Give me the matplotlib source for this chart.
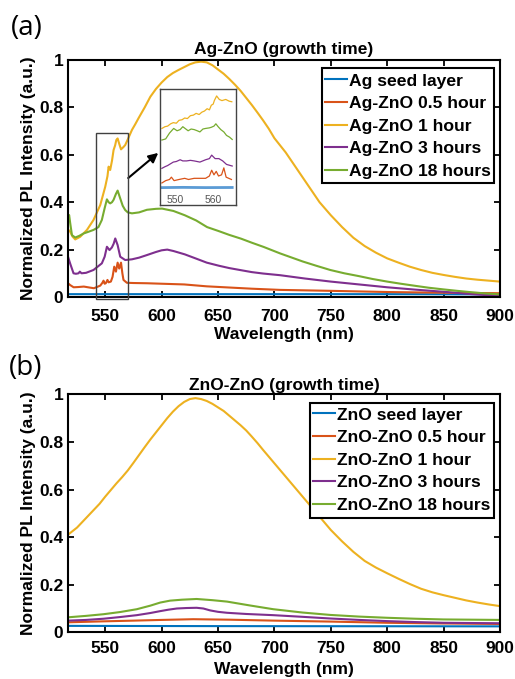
import matplotlib
matplotlib.use('Agg')
import matplotlib.pyplot as plt
from matplotlib.patches import Rectangle

plt.rcParams['font.family'] = ['Liberation Sans', 'DejaVu Sans']
plt.rcParams['font.weight'] = 'bold'
plt.rcParams['axes.linewidth'] = 1.5

C_BLUE = '#0072BD'
C_ORANGE = '#D95319'
C_YELLOW = '#EDB120'
C_PURPLE = '#7E2F8E'
C_GREEN = '#77AC30'
colors = [C_BLUE, C_ORANGE, C_YELLOW, C_PURPLE, C_GREEN]

labels_a = ['Ag seed layer', 'Ag-ZnO 0.5 hour', 'Ag-ZnO 1 hour', 'Ag-ZnO 3 hours', 'Ag-ZnO 18 hours']
labels_b = ['ZnO seed layer', 'ZnO-ZnO 0.5 hour', 'ZnO-ZnO 1 hour', 'ZnO-ZnO 3 hours', 'ZnO-ZnO 18 hours']

x_ticks = [550, 600, 650, 700, 750, 800, 850, 900]
y_ticks = [0, 0.2, 0.4, 0.6, 0.8, 1.0]
y_tick_labels = ['0', '0.2', '0.4', '0.6', '0.8', '1']

# ---------------- panel (a) data ----------------
a_seed_wl = [517, 600, 700, 800, 900]
a_seed = [0.012, 0.012, 0.012, 0.012, 0.011]

a_05h_wl = [517, 519, 522, 526, 531, 536, 540, 545.6, 547.5, 548.5, 549.5, 550.5, 552, 553, 555,
            556.5, 558, 559.5, 561, 562.4, 564, 565.2, 566.2, 569.2, 575, 587, 600, 620, 640, 660,
            680, 705, 750, 800, 850, 900]
a_05h = [0.058, 0.05, 0.041, 0.042, 0.044, 0.04, 0.037, 0.048, 0.06, 0.069, 0.056, 0.058, 0.072, 0.062, 0.065,
         0.085, 0.128, 0.107, 0.145, 0.12, 0.145, 0.10, 0.072, 0.06, 0.059, 0.058, 0.056, 0.053, 0.045, 0.04,
         0.035, 0.03, 0.026, 0.021, 0.018, 0.016]

a_1h_wl = [517, 519, 521, 523.4, 527.8, 533.8, 539.6, 545.6, 550, 552, 553, 554.4, 556, 557.4, 558.8,
           559.8, 561, 562.5, 564, 566, 567.7, 570, 573.7, 576.5, 579.6, 585, 590, 595, 600, 605, 610,
           615, 620, 625, 630, 635, 640, 645, 650, 655, 660, 665, 670, 675, 680, 685, 690, 695, 700,
           710, 720, 730, 740, 750, 760, 770, 780, 790, 800, 810, 820, 830, 840, 850, 860, 870, 880,
           890, 900]
a_1h = [0.285, 0.275, 0.255, 0.243, 0.254, 0.283, 0.325, 0.388, 0.465, 0.51, 0.55, 0.536, 0.575, 0.62, 0.64,
        0.662, 0.669, 0.645, 0.623, 0.632, 0.641, 0.665, 0.705, 0.728, 0.755, 0.80, 0.845, 0.878, 0.905, 0.928,
        0.945, 0.958, 0.97, 0.982, 0.99, 0.993, 0.99, 0.978, 0.96, 0.942, 0.92, 0.896, 0.87, 0.84, 0.81, 0.778,
        0.745, 0.71, 0.67, 0.61, 0.54, 0.47, 0.40, 0.345, 0.295, 0.25, 0.215, 0.187, 0.163, 0.145, 0.128,
        0.114, 0.102, 0.093, 0.085, 0.078, 0.073, 0.069, 0.065]

a_3h_wl = [517, 519, 521.9, 524, 526.3, 527.5, 529, 533, 539.6, 547, 549.5, 551.5, 553.8, 555.9, 557.5,
           558.9, 561, 563.3, 567.7, 573.7, 580, 587, 595, 600, 605, 610.5, 620.5, 630.6, 640, 650.7,
           660, 670.5, 680, 690, 705, 727, 750, 775, 800, 825, 850, 875, 900]
a_3h = [0.17, 0.14, 0.10, 0.098, 0.10, 0.107, 0.10, 0.102, 0.114, 0.142, 0.17, 0.212, 0.198, 0.209, 0.225,
        0.247, 0.219, 0.17, 0.156, 0.159, 0.166, 0.177, 0.19, 0.197, 0.2, 0.194, 0.18, 0.162, 0.145, 0.132,
        0.122, 0.113, 0.105, 0.099, 0.092, 0.078, 0.065, 0.053, 0.041, 0.031, 0.022, 0.012, 0.004]

a_18h_wl = [517, 518, 519, 520.5, 523.4, 527, 530.8, 535, 539.6, 544, 547, 549.5, 551.5, 553, 554.4, 556,
            557.4, 559.5, 561, 563.3, 565.5, 567.7, 570, 573.7, 580, 587, 595, 600.4, 610.5, 620.5, 630.6,
            640.3, 650.7, 660, 670.5, 680, 690.6, 705, 715, 725, 737, 749.5, 762, 775, 787, 800, 812, 825,
            837, 850, 862, 875, 887, 900]
a_18h = [0.33, 0.346, 0.31, 0.261, 0.251, 0.258, 0.268, 0.275, 0.283, 0.295, 0.325, 0.375, 0.412, 0.40, 0.395, 0.40,
         0.41, 0.435, 0.449, 0.416, 0.385, 0.367, 0.357, 0.353, 0.357, 0.368, 0.372, 0.373, 0.363, 0.345, 0.323,
         0.295, 0.278, 0.262, 0.246, 0.229, 0.211, 0.184, 0.167, 0.15, 0.132, 0.114, 0.1, 0.088, 0.076, 0.065,
         0.056, 0.047, 0.039, 0.032, 0.026, 0.02, 0.015, 0.011]

# ---------------- inset data (zoom of 546-566 nm, offset for display) ----------------
in_seed_wl = [546.5, 552, 558, 565]
in_seed = [0.15, 0.152, 0.15, 0.151]
in_05h_wl = [546.5, 547.5, 548.5, 549, 549.7, 551, 552.5, 553.5, 555, 556.5, 558, 559, 559.6, 560.2,
             560.8, 561.4, 562.2, 562.8, 563.4, 564.8]
in_05h = [0.19, 0.21, 0.22, 0.24, 0.21, 0.22, 0.23, 0.22, 0.23, 0.23, 0.23, 0.25, 0.30, 0.26,
          0.29, 0.25, 0.26, 0.32, 0.24, 0.22]
in_1h_wl = [546.5, 547.3, 548, 548.8, 549.5, 550.3, 551, 551.8, 552.5, 553.2, 554, 554.8, 555.5, 556.3,
            557, 557.7, 558.4, 559, 559.5, 560, 560.3, 560.9, 561.6, 562.3, 563.3, 564.2, 564.9]
in_1h = [0.66, 0.675, 0.68, 0.70, 0.71, 0.705, 0.73, 0.735, 0.75, 0.745, 0.77, 0.775, 0.79, 0.78,
         0.80, 0.81, 0.83, 0.82, 0.86, 0.87, 0.90, 0.94, 0.91, 0.90, 0.91, 0.895, 0.89]
in_3h_wl = [546.5, 547.3, 548, 549, 549.5, 550.3, 551.3, 552, 553, 554, 555, 556.5, 558, 559, 559.6,
            560.5, 561.5, 562.5, 563.5, 565]
in_3h = [0.316, 0.33, 0.34, 0.36, 0.37, 0.375, 0.39, 0.38, 0.38, 0.385, 0.38, 0.37, 0.39, 0.40, 0.43,
         0.40, 0.40, 0.38, 0.35, 0.336]
in_18h_wl = [546.5, 547.5, 548.5, 549.6, 550.5, 551.3, 552, 552.8, 553.4, 554.2, 555, 555.8, 556.5, 557.3,
             558, 559, 559.5, 560.2, 560.7, 561.3, 562, 562.8, 563.5, 564.3, 565]
in_18h = [0.56, 0.57, 0.62, 0.66, 0.64, 0.65, 0.675, 0.655, 0.64, 0.655, 0.65, 0.64, 0.63, 0.655,
          0.66, 0.665, 0.67, 0.68, 0.70, 0.675, 0.65, 0.63, 0.60, 0.585, 0.565]

# ---------------- panel (b) data ----------------
b_seed_wl = [517, 650, 900]
b_seed = [0.027, 0.026, 0.025]

b_05h_wl = [517, 548, 575, 600, 628, 660, 700, 750, 800, 850, 900]
b_05h = [0.042, 0.046, 0.049, 0.052, 0.055, 0.053, 0.049, 0.045, 0.04, 0.037, 0.035]

b_1h_wl = [517, 525, 530, 535, 540, 545, 550, 555, 560, 565, 570, 575, 580, 585, 590, 595, 600, 605,
           610, 615, 620, 625, 630, 635, 640, 645, 650, 655, 660, 665, 670, 675, 680, 685, 690, 695,
           700, 705, 710, 715, 720, 725, 730, 735, 740, 745, 750, 760, 770, 780, 790, 800, 810, 820,
           830, 840, 850, 860, 870, 880, 890, 900]
b_1h = [0.41, 0.44, 0.465, 0.49, 0.515, 0.54, 0.57, 0.598, 0.626, 0.652, 0.68, 0.712, 0.745, 0.778,
        0.81, 0.84, 0.87, 0.9, 0.927, 0.95, 0.968, 0.98, 0.984, 0.98, 0.972, 0.96, 0.945, 0.93, 0.91,
        0.89, 0.87, 0.848, 0.822, 0.795, 0.766, 0.738, 0.71, 0.682, 0.654, 0.626, 0.598, 0.57, 0.542,
        0.514, 0.486, 0.458, 0.43, 0.382, 0.338, 0.3, 0.272, 0.248, 0.225, 0.203, 0.183, 0.168, 0.156,
        0.145, 0.134, 0.125, 0.117, 0.11]

b_3h_wl = [517, 533, 548.5, 563, 578, 590, 598.8, 606, 613.5, 622, 631, 637, 643, 650, 658, 675, 699,
           725, 749.5, 775, 800, 825, 850, 875, 900]
b_3h = [0.049, 0.052, 0.057, 0.064, 0.072, 0.081, 0.089, 0.095, 0.1, 0.102, 0.103, 0.1, 0.092, 0.086,
        0.082, 0.077, 0.072, 0.065, 0.058, 0.052, 0.047, 0.043, 0.04, 0.039, 0.038]

b_18h_wl = [517, 533, 548.5, 563, 578, 590, 598.8, 607.5, 618, 631, 645, 658, 678, 699, 725, 749.5,
            775, 800, 825, 850, 875, 900]
b_18h = [0.063, 0.069, 0.076, 0.085, 0.097, 0.112, 0.125, 0.133, 0.137, 0.140, 0.135, 0.129, 0.113,
         0.097, 0.083, 0.073, 0.066, 0.061, 0.057, 0.054, 0.053, 0.052]

W, H = 515, 679
fig = plt.figure(figsize=(W / 100, H / 100), dpi=100)


def style(ax, title, tick_pad, title_pad, xlab_y):
    ax.set_xlim(517, 900)
    ax.set_ylim(0, 1)
    ax.set_xticks(x_ticks)
    ax.set_yticks(y_ticks)
    ax.set_yticklabels(y_tick_labels)
    ax.tick_params(direction='in', top=True, right=True, length=4.5, width=1.3,
                   labelsize=12.5)
    ax.tick_params(axis='x', pad=tick_pad)
    ax.tick_params(axis='y', pad=3.4)
    ax.set_title(title, fontsize=12.5, fontweight='bold', pad=title_pad)
    ax.set_xlabel('Wavelength (nm)', fontsize=12.5, fontweight='bold')
    ax.set_ylabel('Normalized PL Intensity (a.u.)', fontsize=12.5, fontweight='bold')
    ax.xaxis.set_label_coords(0.5, xlab_y)
    ax.yaxis.set_label_coords(-0.074, 0.5)


def legend(ax, labels, anchor, frame):
    x0, y0, x1, y1 = frame
    ax.add_patch(Rectangle((x0, y0), x1 - x0, y1 - y0, transform=ax.transAxes,
                           facecolor='white', edgecolor='black', lw=1.5, zorder=4.5))
    leg = ax.legend(labels, loc='upper left', bbox_to_anchor=anchor, borderaxespad=0,
                    prop={'weight': 'bold', 'size': 12.6}, frameon=False,
                    handlelength=1.27, handletextpad=0.12,
                    borderpad=0, labelspacing=0.42)
    leg.set_zorder(6)
    return leg


# ---------- (a) ----------
ax_a = fig.add_axes([68 / W, (H - 297) / H, 432 / W, 237 / H])
series_a = [(a_seed_wl, a_seed), (a_05h_wl, a_05h), (a_1h_wl, a_1h), (a_3h_wl, a_3h), (a_18h_wl, a_18h)]
for (xw, yv), c in zip(series_a, colors):
    ax_a.plot(xw, yv, color=c, lw=1.5)
style(ax_a, 'Ag-ZnO (growth time)', 8.5, 4.6, -0.127)
legend(ax_a, labels_a, (0.5949, 0.9439), (0.588, 0.481, 0.986, 0.9675))

ax_a.add_patch(Rectangle((541.7, -0.008), 28.1, 0.698, fill=False, edgecolor='#404040',
                         lw=1.0, clip_on=False, zorder=5))
ax_a.annotate('', xy=(597, 0.608), xytext=(570.4, 0.502),
              arrowprops=dict(arrowstyle='-|>', color='black', lw=1.5, mutation_scale=14,
                              shrinkA=0, shrinkB=0))

# inset
ax_in = fig.add_axes([160 / W, (H - 205) / H, 76 / W, 116 / H])
ax_in.plot(in_seed_wl, in_seed, color='#5b9bd5', lw=2.0)
ax_in.plot(in_05h_wl, in_05h, color=C_ORANGE, lw=0.9)
ax_in.plot(in_1h_wl, in_1h, color=C_YELLOW, lw=0.9)
ax_in.plot(in_3h_wl, in_3h, color=C_PURPLE, lw=0.9)
ax_in.plot(in_18h_wl, in_18h, color=C_GREEN, lw=0.9)
ax_in.set_xlim(546, 566)
ax_in.set_ylim(0, 1)
ax_in.set_yticks([])
ax_in.set_xticks([550, 560])
ax_in.set_xticklabels(['550', '560'], fontweight='normal', color='#555555', fontsize=7.5)
ax_in.tick_params(axis='x', length=0, pad=-7)
for sp in ax_in.spines.values():
    sp.set_color('#444444')
    sp.set_linewidth(1.0)

# ---------- (b) ----------
ax_b = fig.add_axes([68 / W, (H - 632.3) / H, 432 / W, 238 / H])
series_b = [(b_seed_wl, b_seed), (b_05h_wl, b_05h), (b_1h_wl, b_1h), (b_3h_wl, b_3h), (b_18h_wl, b_18h)]
for (xw, yv), c in zip(series_b, colors):
    ax_b.plot(xw, yv, color=c, lw=1.5)
style(ax_b, 'ZnO-ZnO (growth time)', 6.0, 3.4, -0.123)
legend(ax_b, labels_b, (0.5671, 0.9454), (0.5602, 0.4803, 0.986, 0.9647))

# panel letters
fig.text(11 / W, (H - 28.3) / H, '(a)', fontsize=20, fontweight='normal', family='Open Sans',
         ha='left', va='center')
fig.text(8.5 / W, (H - 368.3) / H, '(b)', fontsize=20, fontweight='normal', family='Open Sans',
         ha='left', va='center')

fig.savefig('out.png', dpi=100)
